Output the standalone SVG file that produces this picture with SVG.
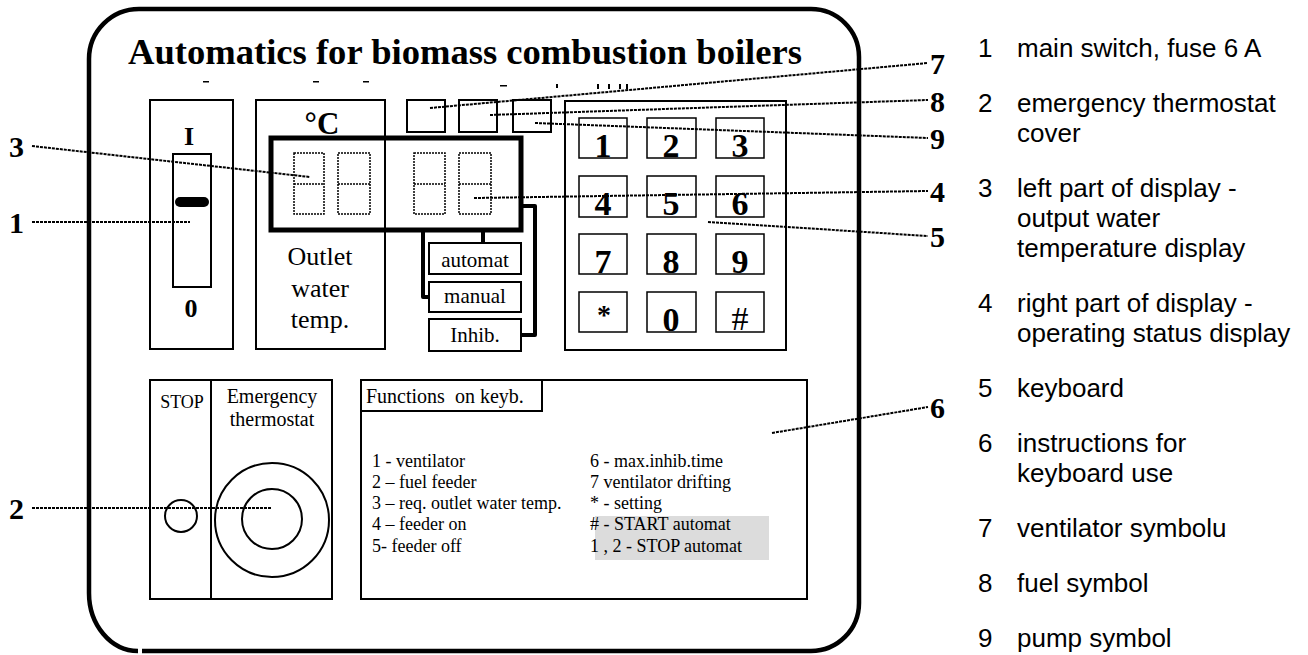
<svg xmlns="http://www.w3.org/2000/svg" width="1308" height="655" viewBox="0 0 1308 655">
<style>
.frame{fill:none;stroke:#000;stroke-width:4.5}
.box{fill:none;stroke:#000;stroke-width:2}
.key{fill:none;stroke:#000;stroke-width:1.5}
.thick{fill:none;stroke:#000;stroke-width:5}
.wire{fill:none;stroke:#000;stroke-width:4;stroke-linejoin:round}
.seg{fill:none;stroke:#000;stroke-width:1.5;stroke-dasharray:2 1}
.lead{fill:none;stroke:#000;stroke-width:2;stroke-dasharray:3 1}
.tr{font-family:"Liberation Serif","Times New Roman",serif;fill:#000}
.trb{font-family:"Liberation Serif","Times New Roman",serif;font-weight:bold;fill:#000}
.ar{font-family:"Liberation Sans",Arial,sans-serif;font-size:26px;fill:#000}
</style>
<rect width="1308" height="655" fill="#fff"/>

<g id="frame">
<path class="frame" d="M 142 651 L 811 651 A 48 48 0 0 0 859 603 L 859 57 A 48 48 0 0 0 811 9 L 139 9 A 50 50 0 0 0 89 59 L 89 593 A 49 58 0 0 0 138 651"/>
<text class="trb" x="128" y="64" font-size="36" textLength="674" lengthAdjust="spacingAndGlyphs">Automatics for biomass combustion boilers</text>
<g fill="#000">
<rect x="203" y="81" width="6" height="1.5"/>
<rect x="313" y="81" width="6" height="1.5"/>
<rect x="363" y="81" width="6" height="1.5"/>
<rect x="500" y="85" width="7" height="1.5"/>
<rect x="556" y="84" width="2" height="4"/>
<rect x="597" y="84" width="2" height="5"/>
<rect x="608" y="84" width="2" height="5"/>
<rect x="619" y="84" width="2" height="5"/>
<rect x="626" y="84" width="2" height="5"/>
</g>
</g>

<g id="main-switch">
<rect class="box" x="150" y="100" width="83" height="249"/>
<text class="trb" x="189" y="145" font-size="26" text-anchor="middle">I</text>
<rect class="box" x="173" y="154" width="38" height="133"/>
<line x1="180" y1="202" x2="204" y2="202" stroke="#000" stroke-width="10" stroke-linecap="round"/>
<text class="trb" x="191" y="317" font-size="26" text-anchor="middle">0</text>
</g>

<g id="temperature-panel">
<rect class="box" x="256" y="100" width="129" height="249"/>
<text class="trb" x="322" y="134" font-size="31" text-anchor="middle">°C</text>
<text class="tr" x="320" y="265" font-size="26" text-anchor="middle">Outlet</text>
<text class="tr" x="320" y="297" font-size="26" text-anchor="middle">water</text>
<text class="tr" x="320" y="328" font-size="26" text-anchor="middle">temp.</text>
</g>

<g id="display">
<rect class="thick" x="271" y="138" width="250" height="92"/>
<rect class="seg" x="294" y="153" width="30" height="61"/>
<line class="seg" x1="294" y1="184" x2="324" y2="184"/>
<rect class="seg" x="338" y="153" width="32" height="61"/>
<line class="seg" x1="338" y1="184" x2="370" y2="184"/>
<rect class="seg" x="414" y="153" width="31" height="61"/>
<line class="seg" x1="414" y1="184" x2="445" y2="184"/>
<rect class="seg" x="459" y="153" width="32" height="61"/>
<line class="seg" x1="459" y1="184" x2="491" y2="184"/>
</g>

<g id="status-automat">
<rect class="box" x="429" y="243" width="92" height="31"/>
<text class="tr" x="475" y="267" font-size="21" text-anchor="middle">automat</text>
</g>
<g id="status-manual">
<rect class="box" x="429" y="282" width="92" height="30"/>
<text class="tr" x="475" y="303" font-size="21" text-anchor="middle">manual</text>
</g>
<g id="status-inhib">
<rect class="box" x="429" y="319" width="92" height="32"/>
<text class="tr" x="475" y="342" font-size="21" text-anchor="middle">Inhib.</text>
</g>

<g id="symbols">
<rect class="box" x="407" y="100" width="38" height="32"/>
<rect class="box" x="459" y="100" width="38" height="32"/>
<rect class="box" x="513" y="100" width="38" height="32"/>
</g>

<g id="keyboard">
<rect class="box" x="565" y="101" width="221" height="249"/>
<rect class="key" x="579" y="118" width="48" height="40"/>
<rect class="key" x="647" y="118" width="49" height="40"/>
<rect class="key" x="716" y="118" width="48" height="40"/>
<rect class="key" x="579" y="176" width="48" height="41"/>
<rect class="key" x="647" y="176" width="49" height="41"/>
<rect class="key" x="716" y="176" width="48" height="41"/>
<rect class="key" x="579" y="234" width="48" height="40"/>
<rect class="key" x="647" y="234" width="49" height="40"/>
<rect class="key" x="716" y="234" width="48" height="40"/>
<rect class="key" x="579" y="292" width="48" height="40"/>
<rect class="key" x="647" y="292" width="49" height="40"/>
<rect class="key" x="716" y="292" width="48" height="40"/>
<g class="trb" font-size="34" text-anchor="middle">
<text x="603" y="157">1</text><text x="671" y="157">2</text><text x="740" y="157">3</text>
<text x="603" y="215">4</text><text x="671" y="215">5</text><text x="740" y="215">6</text>
<text x="603" y="273">7</text><text x="671" y="273">8</text><text x="740" y="273">9</text>
<text x="604" y="324" font-size="28">*</text><text x="671" y="331">0</text>
</g>
<text class="tr" x="740" y="330" font-size="34" text-anchor="middle">#</text>
</g>

<g id="emergency-panel">
<rect class="box" x="150" y="380" width="182" height="219"/>
<line class="box" x1="211" y1="380" x2="211" y2="599"/>
<text class="tr" x="182" y="408" font-size="18" text-anchor="middle">STOP</text>
<text class="tr" x="272" y="403" font-size="20" text-anchor="middle">Emergency</text>
<text class="tr" x="272" y="426" font-size="20" text-anchor="middle">thermostat</text>
<circle class="box" cx="181" cy="516" r="16"/>
<circle class="box" cx="272" cy="520" r="57"/>
<circle class="box" cx="272" cy="519" r="30"/>
</g>

<g id="functions-panel">
<rect class="box" x="361" y="380" width="446" height="219"/>
<rect class="box" x="361" y="380" width="181" height="31"/>
<text class="tr" x="366" y="403" font-size="20" xml:space="preserve">Functions  on keyb.</text>
<rect x="595" y="516" width="174" height="44" fill="#dcdcdc"/>
<g class="tr" font-size="18">
<text x="372" y="467">1 - ventilator</text>
<text x="372" y="488">2 – fuel feeder</text>
<text x="372" y="509">3 – req. outlet water temp.</text>
<text x="372" y="530">4 – feeder on</text>
<text x="372" y="552">5- feeder off</text>
<text x="590" y="467">6 - max.inhib.time</text>
<text x="590" y="488">7 ventilator drifting</text>
<text x="590" y="509">* - setting</text>
<text x="590" y="530"># - START automat</text>
<text x="590" y="552">1 , 2 - STOP automat</text>
</g>
</g>

<g id="connectors">
<path class="wire" d="M 423 230 L 423 297 L 429 297"/>
<path class="wire" d="M 483 230 L 483 243"/>
<path class="wire" d="M 521 206 L 535 206 L 535 335 L 521 335"/>
<line class="lead" x1="32" y1="146" x2="310" y2="177"/>
<line class="lead" x1="32" y1="222" x2="190" y2="222"/>
<line class="lead" x1="32" y1="508" x2="272" y2="508"/>
<line class="lead" x1="430" y1="108" x2="928" y2="63"/>
<line class="lead" x1="490" y1="115" x2="928" y2="100"/>
<line class="lead" x1="535" y1="123" x2="928" y2="138"/>
<line class="lead" x1="474" y1="198" x2="928" y2="191"/>
<line class="lead" x1="708" y1="222" x2="928" y2="236"/>
<line class="lead" x1="772" y1="433" x2="928" y2="407"/>
</g>

<g id="callouts" class="trb" font-size="30">
<text x="9" y="157">3</text>
<text x="9" y="233">1</text>
<text x="9" y="519">2</text>
<text x="930" y="74">7</text>
<text x="930" y="112">8</text>
<text x="930" y="149">9</text>
<text x="930" y="202">4</text>
<text x="930" y="247">5</text>
<text x="930" y="418">6</text>
</g>

<g id="legend" class="ar">
<text x="978" y="57">1</text><text x="1017" y="57">main switch, fuse 6 A</text>
<text x="978" y="112">2</text><text x="1017" y="112">emergency thermostat</text>
<text x="1017" y="142">cover</text>
<text x="978" y="197">3</text><text x="1017" y="197">left part of display -</text>
<text x="1017" y="227">output water</text>
<text x="1017" y="257">temperature display</text>
<text x="978" y="312">4</text><text x="1017" y="312">right part of display -</text>
<text x="1017" y="342">operating status display</text>
<text x="978" y="397">5</text><text x="1017" y="397">keyboard</text>
<text x="978" y="452">6</text><text x="1017" y="452">instructions for</text>
<text x="1017" y="482">keyboard use</text>
<text x="978" y="537">7</text><text x="1017" y="537">ventilator symbolu</text>
<text x="978" y="592">8</text><text x="1017" y="592">fuel symbol</text>
<text x="978" y="647">9</text><text x="1017" y="647">pump symbol</text>
</g>
</svg>
